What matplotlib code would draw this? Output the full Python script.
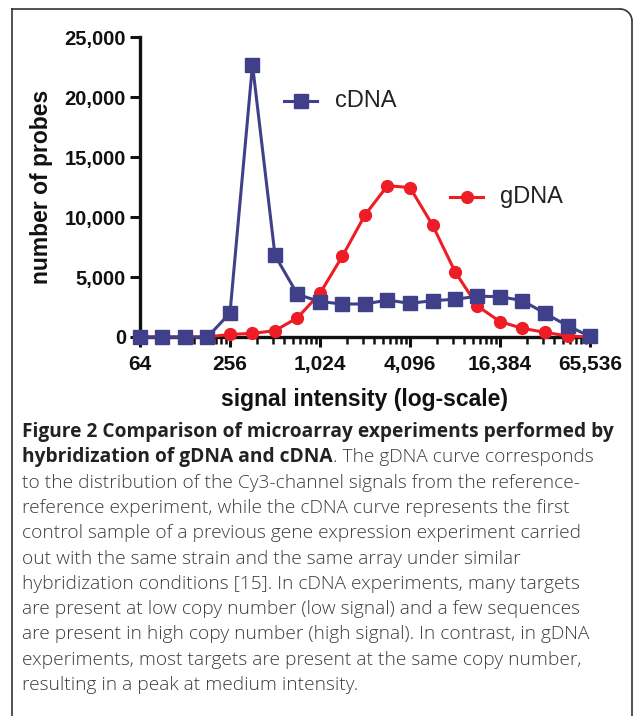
import numpy as np
import matplotlib
matplotlib.use("Agg")
import matplotlib.pyplot as plt
from matplotlib.ticker import FixedLocator, FuncFormatter, NullFormatter
from matplotlib.patches import Arc

# signal intensity bins (log2 half steps from 64 to 65,536)
signal = [64, 90.5, 128, 181, 256, 362, 512, 724, 1024, 1448, 2048, 2896,
          4096, 5793, 8192, 11585, 16384, 23170, 32768, 46341, 65536]
cdna = [0, 0, 0, 0, 2000, 22700, 6800, 3550, 2950, 2750, 2750, 3080,
        2800, 3030, 3140, 3400, 3360, 3030, 1970, 940, 50]
gdna = [0, 0, 0, 0, 220, 300, 530, 1600, 3640, 6750, 10170, 12610,
        12450, 9330, 5450, 2580, 1280, 720, 390, 80, 0]

x_ticks = [64, 256, 1024, 4096, 16384, 65536]
y_ticks = [0, 5000, 10000, 15000, 20000, 25000]

caption_bold1 = "Figure 2 Comparison of microarray experiments performed by"
caption_bold2 = "hybridization of gDNA and cDNA"
caption_rest2 = ". The gDNA curve corresponds"
caption_lines = [
    "to the distribution of the Cy3-channel signals from the reference-",
    "reference experiment, while the cDNA curve represents the first",
    "control sample of a previous gene expression experiment carried",
    "out with the same strain and the same array under similar",
    "hybridization conditions [15]. In cDNA experiments, many targets",
    "are present at low copy number (low signal) and a few sequences",
    "are present in high copy number (high signal). In contrast, in gDNA",
    "experiments, most targets are present at the same copy number,",
    "resulting in a peak at medium intensity.",
]

W, H = 636, 716
BLUE = "#40408a"
RED = "#ee1c25"
AXFONT = "Liberation Sans"
CAPFONT = "Open Sans"

fig = plt.figure(figsize=(W / 100, H / 100), dpi=100)
fig.patch.set_facecolor("white")

ax = fig.add_axes([140 / W, 1 - 337 / H, 450 / W, 300 / H])
ax.set_xscale("log", base=2)
ax.set_xlim(64, 65536)
ax.set_ylim(0, 25000)

ax.plot(signal, gdna, color=RED, lw=2.2, marker="o", ms=8.5, clip_on=False,
        zorder=3, label="gDNA")
ax.plot(signal, cdna, color=BLUE, lw=2.2, marker="s", ms=9.5, clip_on=False,
        zorder=4, label="cDNA")

for s in ["top", "right"]:
    ax.spines[s].set_visible(False)
for s in ["left", "bottom"]:
    ax.spines[s].set_linewidth(2.4)
    ax.spines[s].set_color("#111111")

ax.xaxis.set_major_locator(FixedLocator(x_ticks))
minor = []
for b in x_ticks[:-1]:
    for k in range(2, 10):
        minor.append(b * 4 ** np.log10(k))
ax.xaxis.set_minor_locator(FixedLocator(minor))
ax.xaxis.set_minor_formatter(NullFormatter())
ax.yaxis.set_major_locator(FixedLocator(y_ticks))
ax.yaxis.set_minor_locator(FixedLocator([]))
fmt = FuncFormatter(lambda v, p: f"{int(round(v)):,}")
ax.xaxis.set_major_formatter(fmt)
ax.yaxis.set_major_formatter(fmt)

ax.tick_params(axis="both", which="major", length=7, width=2.2,
               color="#111111", labelsize=14.5, labelcolor="#111111", pad=3)
ax.tick_params(axis="x", which="major", labelsize=15, pad=6)
ax.tick_params(axis="x", which="minor", length=5, width=1.8, color="#111111")
for lab in ax.get_xticklabels() + ax.get_yticklabels():
    lab.set_fontfamily(AXFONT)
    lab.set_fontweight("bold")

ax.set_xlabel("signal intensity (log-scale)", fontsize=16.5, fontweight="bold",
              family=AXFONT, color="#111111", labelpad=10)
ax.set_ylabel("number of probes", fontsize=16.5, fontweight="bold",
              family=AXFONT, color="#111111", labelpad=8)

# overlay in pixel coordinates for legend, caption and frame
ov = fig.add_axes([0, 0, 1, 1], zorder=-1)
ov.set_xlim(0, W)
ov.set_ylim(H, 0)
ov.axis("off")
ov2 = fig.add_axes([0, 0, 1, 1], zorder=5)
ov2.set_xlim(0, W)
ov2.set_ylim(H, 0)
ov2.axis("off")
ov2.patch.set_alpha(0)

# legend entries
ov2.plot([284, 317], [101, 101], color=BLUE, lw=2.2)
ov2.plot([300.5], [101], color=BLUE, marker="s", ms=9.5)
ov2.text(335, 101, "cDNA", fontsize=17, family=AXFONT, va="center",
         color="#222222")
ov2.plot([450, 483], [197, 197], color=RED, lw=2.2)
ov2.plot([466.5], [197], color=RED, marker="o", ms=8.5)
ov2.text(500, 197, "gDNA", fontsize=17, family=AXFONT, va="center",
         color="#222222")

# frame with rounded top-right corner
r = 12
ov.plot([12, 12], [H, 9], color="#333333", lw=1.2)
ov.plot([12, 632 - r], [9, 9], color="#333333", lw=1.2)
ov.plot([632, 632], [9 + r, H], color="#333333", lw=1.2)
ov.add_patch(Arc((632 - r, 9 + r), 2 * r, 2 * r, theta1=270, theta2=360,
                 color="#333333", lw=1.2))

# caption
cap_size = 13.8
y0 = 432
step = 25.3
ov2.text(22, y0, caption_bold1, fontsize=cap_size, family=CAPFONT,
         fontweight="bold", va="center", color="#222222")
t = ov2.text(22, y0 + step, caption_bold2, fontsize=cap_size, family=CAPFONT,
             fontweight="bold", va="center", color="#222222")
fig.canvas.draw()
bb = t.get_window_extent(fig.canvas.get_renderer())
ov2.text(22 + bb.width, y0 + step, caption_rest2, fontsize=cap_size,
         family=CAPFONT, fontweight="light", va="center", color="#3c3c3c")
for i, line in enumerate(caption_lines):
    ov2.text(22, y0 + step * (i + 2), line, fontsize=cap_size, family=CAPFONT,
             fontweight="light", va="center", color="#3c3c3c")

fig.savefig("out.png", dpi=100)
